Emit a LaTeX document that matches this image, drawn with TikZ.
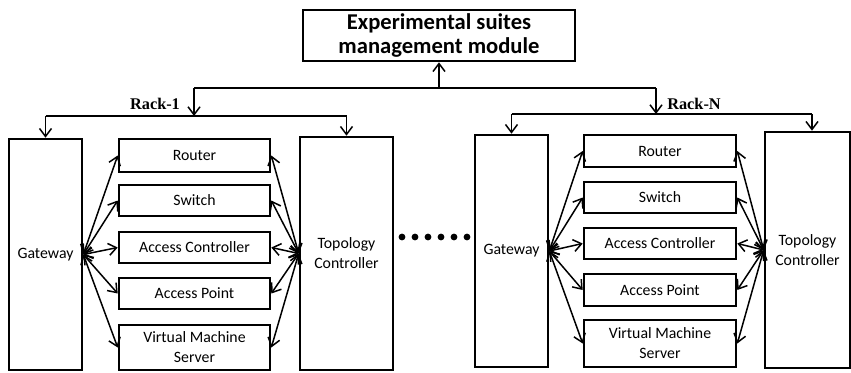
\documentclass[tikz,border=0pt]{standalone}
\usepackage{fontspec}
\setmainfont{Carlito}
\newfontfamily\rackfont{Liberation Serif}
\usetikzlibrary{arrows.meta}
\begin{document}
\begin{tikzpicture}[x=1pt,y=-1pt,
  box/.style={draw, line width=2.6pt, inner sep=0pt, align=center,
    font=\fontsize{15.8}{20}\selectfont},
  link/.style={line width=1.5pt, {Straight Barb[length=8pt,width=12pt]}-{Straight Barb[length=8pt,width=12pt]}},
  feed/.style={line width=1.5pt, -{Straight Barb[length=8pt,width=12pt]}},
  bus/.style={line width=1.5pt},
  racklabel/.style={font=\rackfont\bfseries\fontsize{16.3}{18}\selectfont, inner sep=0pt}]
\useasboundingbox (0,0) rectangle (851,372);

% management module
\node[box, minimum width=272pt, minimum height=51pt,
  font=\bfseries\fontsize{22.6}{24}\selectfont] (top) at (439,35.5)
  {Experimental suites\\management module};

% ---- Rack-1 ----
\node[box, minimum width=73pt, minimum height=231pt] (gw1) at (45.5,254.5) {Gateway};
\node[box, minimum width=93pt, minimum height=233pt] (tc1) at (346.5,253.5) {Topology\\Controller};
\node[box, minimum width=151pt, minimum height=33pt] (r1)  at (194.5,155.5) {Router};
\node[box, minimum width=151pt, minimum height=31pt] (s1)  at (194.5,200.5) {Switch};
\node[box, minimum width=151pt, minimum height=31pt] (ac1) at (194.5,247.5) {Access Controller};
\node[box, minimum width=151pt, minimum height=31pt] (ap1) at (194.5,293.5) {Access Point};
\node[box, minimum width=151pt, minimum height=45pt] (vm1) at (194.5,347.5) {Virtual Machine\\Server};

% ---- Rack-N ----
\node[box, minimum width=73pt, minimum height=232pt] (gw2) at (511.5,251) {Gateway};
\node[box, minimum width=85pt, minimum height=236pt] (tc2) at (807.5,250) {Topology\\Controller};
\node[box, minimum width=152pt, minimum height=32pt] (r2)  at (660,151) {Router};
\node[box, minimum width=152pt, minimum height=31pt] (s2)  at (660,197.5) {Switch};
\node[box, minimum width=152pt, minimum height=31pt] (ac2) at (660,243.5) {Access Controller};
\node[box, minimum width=152pt, minimum height=32pt] (ap2) at (660,290) {Access Point};
\node[box, minimum width=152pt, minimum height=47pt] (vm2) at (660,343.5) {Virtual Machine\\Server};

% distribution from the management module
\coordinate (hub)  at (439,88);
\coordinate (hubL) at (194,88);
\coordinate (hubR) at (656,88);
\draw[feed] (hub) -- (top.south);
\draw[bus] (hubL) -- (hubR);

\coordinate (bus1)  at (194,116);
\coordinate (bus1L) at (45.5,116);
\coordinate (bus1R) at (346.5,116);
\draw[feed] (hubL) -- (bus1);
\draw[bus] (bus1L) -- (bus1R);
\draw[feed] (bus1L) -- (gw1.north);
\draw[feed] (bus1R) -- (tc1.north);

\coordinate (bus2)  at (656,114);
\coordinate (bus2L) at (511.5,114);
\coordinate (bus2R) at (812,114);
\draw[feed] (hubR) -- (bus2);
\draw[bus] (bus2L) -- (bus2R);
\draw[feed] (bus2L) -- (gw2.north);
\draw[feed] (bus2R) -- (bus2R |- tc2.north);

\node[racklabel] (lab1) at (155,104) {Rack-1};
\node[racklabel] (lab2) at (694,104) {Rack-N};

% links inside the racks
\foreach \b in {r1,s1,ac1,ap1,vm1} {
  \draw[link] (gw1.east) -- (\b.west);
  \draw[link] (tc1.west) -- (\b.east);
}
\foreach \b in {r2,s2,ac2,ap2,vm2} {
  \draw[link] (gw2.east) -- (\b.west);
  \draw[link] (tc2.west) -- (\b.east);
}

% ellipsis between racks
\foreach \i in {0,...,5}
  \fill (402+13*\i,237) circle (3.4pt);
\end{tikzpicture}
\end{document}
